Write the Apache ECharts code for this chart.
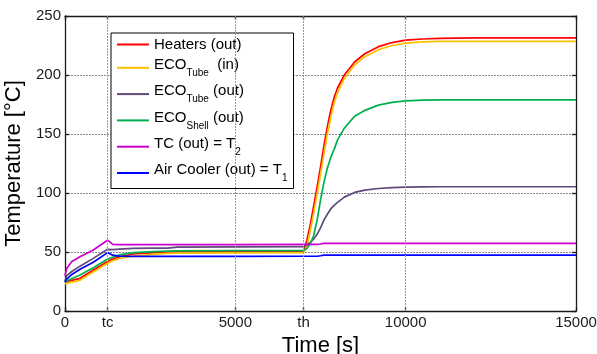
<!DOCTYPE html>
<html><head><meta charset="utf-8">
<script src="https://cdn.jsdelivr.net/npm/echarts@6/dist/echarts.min.js"></script>
<style>html,body{margin:0;padding:0;background:#fff}#c{width:597px;height:354px}</style>
</head><body><div id="c"></div>
<script>
const time          = [0, 50, 200, 440, 830, 1250, 1400, 1600, 2000, 2600, 3000, 3300, 5000, 7000, 7100, 7200, 7300, 7400, 7500, 7600, 7700, 7800, 7900, 8000, 8200, 8500, 8800, 9200, 9600, 10000, 10500, 11000, 12000, 15000];
const heatersOut    = [24.5, 25, 26, 27.7, 34.7, 42, 44, 46, 48.3, 49.5, 50, 50.2, 50.3, 50.3, 60, 73, 89, 105, 122, 140, 156, 170, 181, 189, 200, 211, 218, 224, 227.5, 229.5, 230.5, 231, 231.5, 231.5];
const ecoTubeIn     = [23, 23.5, 24.5, 26, 33, 40.5, 42.5, 44.5, 46.5, 48, 48.8, 49, 49.3, 49.5, 55, 68, 83, 99, 116, 133, 150, 164, 176, 185, 197, 208.5, 215.5, 221.5, 225, 227, 228, 228.5, 228.5, 228.5];
const ecoTubeOut    = [25, 30, 33.5, 38, 44.6, 52.3, 52, 52.5, 53, 53.2, 53.3, 54.2, 54.3, 54.5, 56, 58, 61, 65, 70.5, 77, 82, 86.5, 89.5, 92, 96.5, 100.5, 102.5, 103.8, 104.5, 105, 105.2, 105.3, 105.3, 105.3];
const ecoShellOut   = [24.5, 25.5, 27.5, 30.5, 36.7, 44, 45.5, 47.5, 49.4, 50.3, 50.7, 51, 51.2, 51.2, 53, 57, 64, 77, 94, 109, 121, 130, 137, 145, 155, 165, 170, 174.5, 176.8, 178, 178.7, 179, 179, 179];
const tcOut         = [30, 36, 42, 46, 51.7, 60, 56.5, 56.3, 56.3, 56.3, 56.3, 56.3, 56.3, 56.5, 56.5, 56.5, 56.5, 56.5, 56.8, 57.3, 57.3, 57.3, 57.3, 57.3, 57.3, 57.3, 57.3, 57.3, 57.3, 57.3, 57.3, 57.3, 57.3, 57.3];
const airCoolerOut  = [24.5, 27, 31, 35.3, 41.3, 49.5, 47.3, 46.5, 46.3, 46.3, 46.3, 46.3, 46.3, 46.4, 46.4, 46.4, 46.4, 46.4, 46.8, 47.3, 47.3, 47.3, 47.3, 47.3, 47.3, 47.3, 47.3, 47.3, 47.3, 47.3, 47.3, 47.3, 47.3, 47.3];

const xTickValues = [0, 1250, 5000, 7000, 10000, 15000];
const xTickLabels = ['0', 'tc', '5000', 'th', '10000', '15000'];
const xGridValues = [1250, 5000, 7000, 10000];

const seriesNames = ['Heaters (out)', 'ECOTube (in)', 'ECOTube (out)', 'ECOShell (out)', 'TC (out) = T2', 'Air Cooler (out) = T1'];
const legendRich = {
  'Heaters (out)': '{n|Heaters (out)}',
  'ECOTube (in)': '{n|ECO}{s|Tube}{n|  (in)}',
  'ECOTube (out)': '{n|ECO}{s|Tube}{n| (out)}',
  'ECOShell (out)': '{n|ECO}{s|Shell}{n| (out)}',
  'TC (out) = T2': '{n|TC (out) = T}{s|2}',
  'Air Cooler (out) = T1': '{n|Air Cooler (out) = T}{s|1}'
};
const seriesValues = [heatersOut, ecoTubeIn, ecoTubeOut, ecoShellOut, tcOut, airCoolerOut];
const colors = ['#FF0000', '#FFC000', '#604A7B', '#00B050', '#CC00CC', '#0000FF'];

const FONT = 'Liberation Sans, Arial, sans-serif';
const chart = echarts.init(document.getElementById('c'), null, {renderer: 'canvas'});

const series = seriesNames.map((name, k) => ({
  name, type: 'line', symbol: 'none', z: 3,
  data: time.map((t, i) => [t, seriesValues[k][i]]),
  lineStyle: {color: colors[k], width: 1.7},
  itemStyle: {color: colors[k]},
  emphasis: {disabled: true}
}));
series.unshift({
  name: 'grid', type: 'line', data: [], z: 1, silent: true,
  markLine: {
    silent: true, symbol: 'none', label: {show: false}, animation: false,
    lineStyle: {color: '#999', type: [2, 1], width: 1},
    data: xGridValues.map(v => ({xAxis: v}))
  }
});

const axisLineStyle = {color: '#1a1a1a', width: 1.3};
chart.setOption({
  animation: false,
  grid: {left: 65, right: 21, top: 16, bottom: 43, containLabel: false, outerBoundsMode: 'none'},
  xAxis: [{
    type: 'value', min: 0, max: 15000, position: 'bottom',
    name: 'Time [s]', nameLocation: 'middle', nameGap: 17,
    nameTextStyle: {fontFamily: FONT, fontSize: 22, color: '#000'},
    axisLine: {show: true, onZero: false, lineStyle: axisLineStyle},
    axisTick: {show: true, inside: true, length: 4, customValues: xTickValues, lineStyle: axisLineStyle},
    axisLabel: {customValues: xTickValues, fontFamily: FONT, fontSize: 15, color: '#1a1a1a', margin: 4,
      formatter: v => xTickLabels[xTickValues.indexOf(v)] ?? ''},
    splitLine: {show: false}
  }, {
    type: 'value', min: 0, max: 15000, position: 'top',
    axisLine: {show: true, onZero: false, lineStyle: axisLineStyle},
    axisTick: {show: true, inside: true, length: 4, customValues: xTickValues, lineStyle: axisLineStyle},
    axisLabel: {show: false}, splitLine: {show: false}
  }],
  yAxis: [{
    type: 'value', min: 0, max: 250, interval: 50, position: 'left',
    name: 'Temperature [°C]', nameLocation: 'middle', nameGap: 36,
    nameTextStyle: {fontFamily: FONT, fontSize: 22, color: '#000'},
    axisLine: {show: true, onZero: false, lineStyle: axisLineStyle},
    axisTick: {show: true, inside: true, length: 4, lineStyle: axisLineStyle},
    axisLabel: {fontFamily: FONT, fontSize: 15, color: '#1a1a1a', margin: 4},
    splitLine: {show: true, lineStyle: {color: '#888', type: [2, 1], width: 1}}
  }, {
    type: 'value', min: 0, max: 250, interval: 50, position: 'right',
    axisLine: {show: true, onZero: false, lineStyle: axisLineStyle},
    axisTick: {show: true, inside: true, length: 4, lineStyle: axisLineStyle},
    axisLabel: {show: false}, splitLine: {show: false}
  }],
  legend: {
    orient: 'vertical', left: 111, top: 33, padding: [4, 6, 5, 6],
    icon: 'rect', itemWidth: 32, itemHeight: 2, itemGap: 5.3,
    backgroundColor: '#fff', borderColor: '#000', borderWidth: 1, borderRadius: 0,
    data: seriesNames, selectedMode: false,
    formatter: n => legendRich[n],
    textStyle: {
      fontFamily: FONT, fontSize: 15, color: '#000',
      rich: {
        n: {fontFamily: FONT, fontSize: 15, color: '#000', verticalAlign: 'top'},
        s: {fontFamily: FONT, fontSize: 10, color: '#000', padding: [11, 0, 0, 0], verticalAlign: 'bottom'}
      }
    }
  },
  series
});
</script></body></html>
